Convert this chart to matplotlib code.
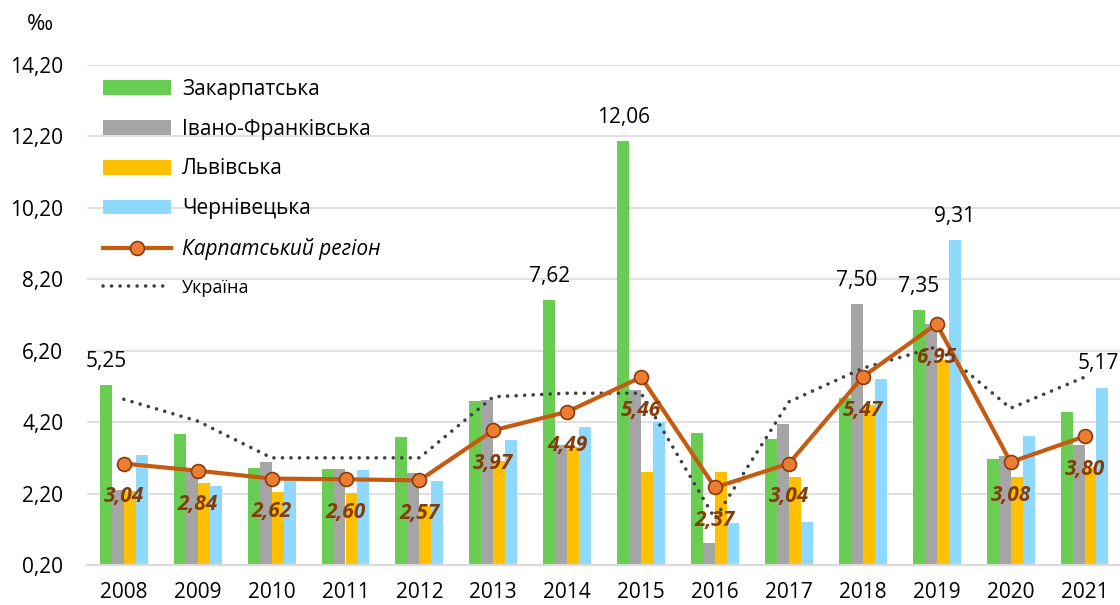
import numpy as np
import matplotlib
matplotlib.use("Agg")
import matplotlib.pyplot as plt
from matplotlib.lines import Line2D
from matplotlib.patches import Patch

plt.rcParams["font.family"] = ["Open Sans", "DejaVu Sans"]

# Дані
years = ["2008", "2009", "2010", "2011", "2012", "2013", "2014",
         "2015", "2016", "2017", "2018", "2019", "2020", "2021"]
zakarpatska = [5.25, 3.86, 2.91, 2.88, 3.79, 4.80, 7.62, 12.06, 3.89, 3.74, 4.89, 7.35, 3.17, 4.49]
ivano_frankivska = [2.30, 2.85, 3.09, 2.88, 2.78, 4.82, 3.56, 5.10, 0.83, 4.15, 7.50, 6.94, 3.24, 3.56]
lvivska = [2.27, 2.49, 2.24, 2.21, 1.86, 3.10, 3.50, 2.81, 2.81, 2.67, 4.68, 5.94, 2.67, 2.95]
chernivetska = [3.29, 2.42, 2.58, 2.85, 2.54, 3.70, 4.07, 4.21, 1.38, 1.40, 5.40, 9.31, 3.82, 5.17]
karpatskyi = [3.04, 2.84, 2.62, 2.60, 2.57, 3.97, 4.49, 5.46, 2.37, 3.04, 5.47, 6.95, 3.08, 3.80]
ukraina = [4.84, 4.23, 3.20, 3.20, 3.20, 4.91, 5.01, 5.01, 1.50, 4.77, 5.71, 6.31, 4.59, 5.46]

series_names = ["Закарпатська", "Івано-Франківська", "Львівська", "Чернівецька"]
series_values = [zakarpatska, ivano_frankivska, lvivska, chernivetska]
series_colors = ["#68CD52", "#A5A5A5", "#FFC000", "#8FD9FF"]

# підписи над окремими стовпцями: (індекс ряду, індекс року)
bar_labels = [(0, 0), (0, 6), (0, 7), (1, 10), (0, 11), (3, 11), (3, 13)]

y_ticks = [0.2, 2.2, 4.2, 6.2, 8.2, 10.2, 12.2, 14.2]

FS = 15

fig = plt.figure(figsize=(11.2, 6.05), dpi=100)
ax = fig.add_axes([86.85 / 1120, 40 / 605, 1034.6 / 1120, 500 / 605])

x = np.arange(len(years))
w = 0.162
offsets = [-1.5 * w, -0.5 * w, 0.5 * w, 1.5 * w]

for vals, off, col in zip(series_values, offsets, series_colors):
    ax.bar(x + off, vals, width=w, color=col, zorder=2)

dots = (0, (0.01, 2.35))
ax.plot(x, ukraina, color="#404040", linewidth=2.6,
        linestyle=dots, dash_capstyle="round", zorder=3)
ax.plot(x, karpatskyi, color="#C55A11", linewidth=3.0, marker="o",
        markersize=10, markerfacecolor="#ED7D31", markeredgecolor="#8B3A0F",
        markeredgewidth=1.2, zorder=4)

fmt = lambda v: f"{v:.2f}".replace(".", ",")

for si, yi in bar_labels:
    v = series_values[si][yi]
    # останній підпис трохи зсунуто, щоб не обрізався краєм
    dx = -3 if yi == len(years) - 1 else 0
    ax.annotate(fmt(v), (x[yi] + offsets[si], v), xytext=(dx, 17),
                textcoords="offset points", ha="center", va="center",
                fontsize=FS, color="#000000", zorder=5)

for xi, v in zip(x, karpatskyi):
    ax.annotate(fmt(v), (xi, v), xytext=(0, -24), textcoords="offset points",
                ha="center", va="center", fontsize=FS, fontweight="bold",
                fontstyle="italic", color="#843C0C", zorder=5)

ax.set_xlim(-0.5, len(years) - 0.5)
ax.set_ylim(0.2, 14.2)
ax.set_yticks(y_ticks)
ax.set_yticklabels([fmt(t) for t in y_ticks])
ax.set_xticks(x)
ax.set_xticklabels(years)
ax.tick_params(axis="both", length=0, labelsize=FS)
ax.tick_params(axis="y", pad=17)
ax.tick_params(axis="x", pad=12)
ax.grid(axis="y", color="#D9D9D9", linewidth=1.1, zorder=0)
ax.set_axisbelow(True)
for s in ["top", "right", "left"]:
    ax.spines[s].set_visible(False)
ax.spines["bottom"].set_color("#D9D9D9")
ax.spines["bottom"].set_linewidth(1.6)

fig.text(39.5 / 1120, 1 - 24 / 605, "‰", fontsize=FS + 1, ha="center", va="center")

handles = [Patch(facecolor=c, edgecolor="none") for c in series_colors]
handles.append(Line2D([], [], color="#C55A11", linewidth=3.0, marker="o",
                      markersize=10, markerfacecolor="#ED7D31",
                      markeredgecolor="#8B3A0F", markeredgewidth=1.2))
handles.append(Line2D([], [], color="#404040", linewidth=2.6,
                      linestyle=dots, dash_capstyle="round"))
labels = series_names + ["Карпатський регіон", "Україна"]

leg = fig.legend(handles, labels, loc="upper left",
                 bbox_to_anchor=(103 / 1120, 1 - 79 / 605), frameon=False,
                 fontsize=FS, handlelength=3.25, handleheight=0.7,
                 handletextpad=0.55, labelspacing=0.9, borderpad=0,
                 borderaxespad=0)
leg.get_texts()[4].set_fontstyle("italic")
leg.get_texts()[5].set_fontsize(13)

fig.savefig("out.png", dpi=100)
